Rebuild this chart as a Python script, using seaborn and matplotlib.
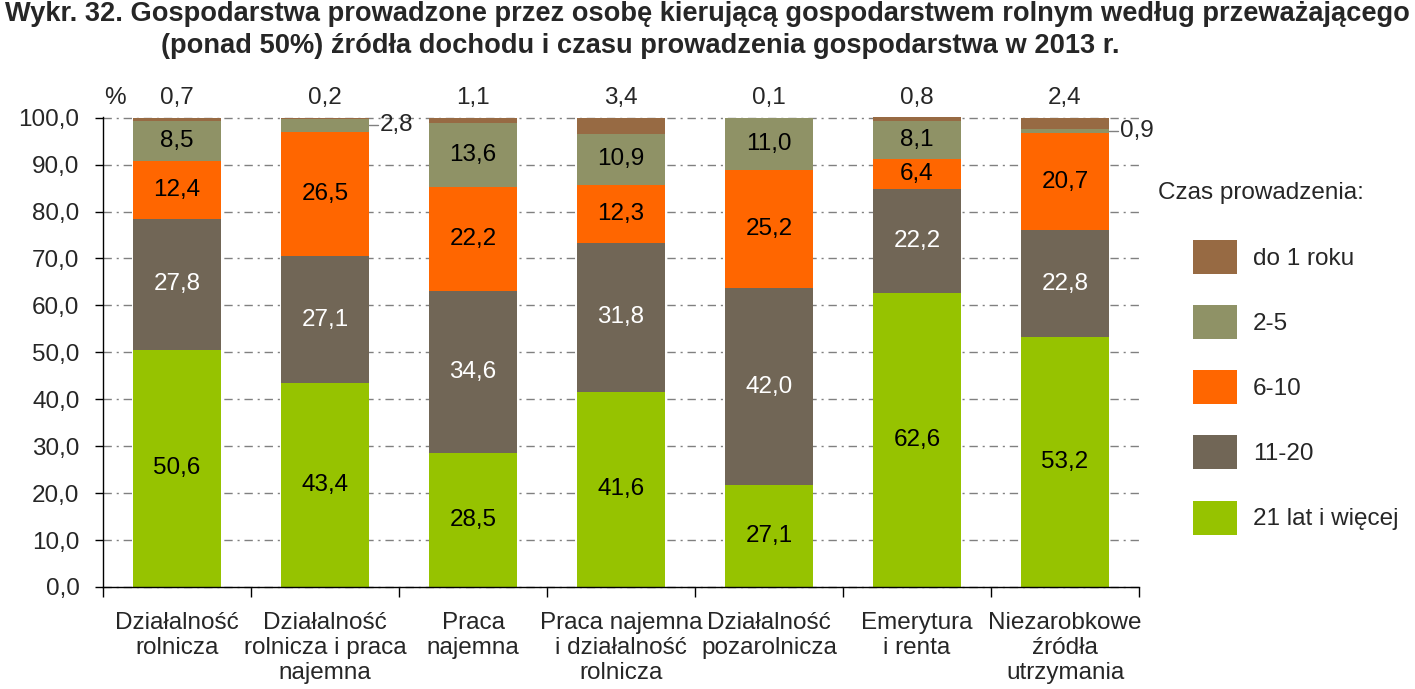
import numpy as np
import pandas as pd
import matplotlib
matplotlib.use("Agg")
import matplotlib.pyplot as plt
import seaborn as sns
from matplotlib.patches import Patch

categories = [
    "Działalność\nrolnicza",
    "Działalność\nrolnicza i praca\nnajemna",
    "Praca\nnajemna",
    "Praca najemna\ni działalność\nrolnicza",
    "Działalność\npozarolnicza",
    "Emerytura\ni renta",
    "Niezarobkowe\nźródła\nutrzymania",
]
series_names = ["21 lat i więcej", "11-20", "6-10", "2-5", "do 1 roku"]
v21 = [50.6, 43.4, 28.5, 41.6, 21.7, 62.6, 53.2]
v11 = [27.8, 27.1, 34.6, 31.8, 42.0, 22.2, 22.8]
v6 = [12.4, 26.5, 22.2, 12.3, 25.2, 6.4, 20.7]
v2 = [8.5, 2.8, 13.6, 10.9, 11.0, 8.1, 0.9]
v1 = [0.7, 0.2, 1.1, 3.4, 0.1, 0.8, 2.4]
# labels as printed in the source (it prints 27,1 for the 21+ segment of "Działalność pozarolnicza")
lab21 = [50.6, 43.4, 28.5, 41.6, 27.1, 62.6, 53.2]
yticks = list(range(0, 101, 10))

colors = ["#96C300", "#716656", "#FF6600", "#8F9266", "#976A43"]

sns.set_theme(style="white")
plt.rcParams["font.family"] = ["Liberation Sans", "DejaVu Sans"]

FS = 17.5
fmt = lambda v: f"{v:.1f}".replace(".", ",")

fig = plt.figure(figsize=(14.15, 6.89), dpi=100)
W, H = 1415, 689
ax = fig.add_axes([103 / W, 1 - 587 / H, (1139 - 103) / W, (587 - 117) / H])

series = [v21, v11, v6, v2, v1]
cum = np.cumsum(np.array(series), axis=0)
bw = 0.595
for i in reversed(range(5)):
    df = pd.DataFrame({"cat": categories, "val": cum[i]})
    sns.barplot(data=df, x="cat", y="val", order=categories, color=colors[i],
                saturation=1, width=bw, errorbar=None, ax=ax, linewidth=0)

ax.set_xlim(-0.5, 6.5)
ax.set_ylim(0, 100.15)
ax.set_yticks(yticks)
ax.set_yticklabels([fmt(t) for t in yticks], fontsize=FS)
ax.set_xticks(np.arange(-0.5, 7, 1))
ax.set_xticklabels([""] * 8)
ax.set_xticks(np.arange(7), minor=True)
ax.set_xticklabels(categories, minor=True, fontsize=FS, linespacing=1.18)
ax.tick_params(axis="x", which="major", direction="out", length=7, width=1, color="black", bottom=True)
ax.tick_params(axis="x", which="minor", length=0, pad=18)
ax.tick_params(axis="y", direction="out", length=6, width=1, color="black", left=True, pad=11)
ax.set_xlabel("")
ax.set_ylabel("")
for s in ["top", "right"]:
    ax.spines[s].set_visible(False)
for s in ["left", "bottom"]:
    ax.spines[s].set_color("black")
    ax.spines[s].set_linewidth(1)
ax.yaxis.grid(True, color="#808080", linewidth=1, linestyle=(0, (6, 3.5, 1.5, 3.5)))
ax.set_axisbelow(True)
for gl in ax.get_ygridlines():
    gl.set_clip_on(False)

# segment labels
lab_series = [lab21, v11, v6, v2]
for i in range(7):
    bottom = 0
    for s in range(4):
        val = series[s][i]
        lab = lab_series[s][i]
        if val >= 5:
            ax.text(i, bottom + val / 2, fmt(lab), ha="center", va="center", fontsize=FS,
                    color="white" if s == 1 else "black")
        else:
            yc = bottom + val / 2
            ax.plot([i + bw / 2, i + bw / 2 + 0.06], [yc, yc], color="#808080", lw=1, clip_on=False)
            ax.text(i + bw / 2 + 0.075, yc, fmt(lab), ha="left", va="center", fontsize=FS)
        bottom += val
    ax.text(i, 104.3, fmt(v1[i]), ha="center", va="center", fontsize=FS)

ax.text(-0.42, 104.3, "%", ha="center", va="center", fontsize=FS)

handles = [Patch(facecolor=colors[i], edgecolor="none") for i in reversed(range(5))]
labels = list(reversed(series_names))
fig.legend(handles, labels, loc="upper left", bbox_to_anchor=(1193 / W, 1 - 240 / H),
           frameon=False, fontsize=FS, handlelength=1.81, handleheight=1.777,
           handletextpad=0.66, labelspacing=1.28, borderpad=0, borderaxespad=0)
fig.text(1158 / W, 1 - 193 / H, "Czas prowadzenia:", ha="left", va="center", fontsize=FS)

fig.text(5 / W, 1 - 14 / H,
         "Wykr. 32. Gospodarstwa prowadzone przez osobę kierującą gospodarstwem rolnym według przeważającego",
         ha="left", va="center", fontsize=19.6, fontweight="bold")
fig.text(640 / W, 1 - 46 / H,
         "(ponad 50%) źródła dochodu i czasu prowadzenia gospodarstwa w 2013 r.",
         ha="center", va="center", fontsize=19.6, fontweight="bold")

fig.savefig("out.png", dpi=100)
